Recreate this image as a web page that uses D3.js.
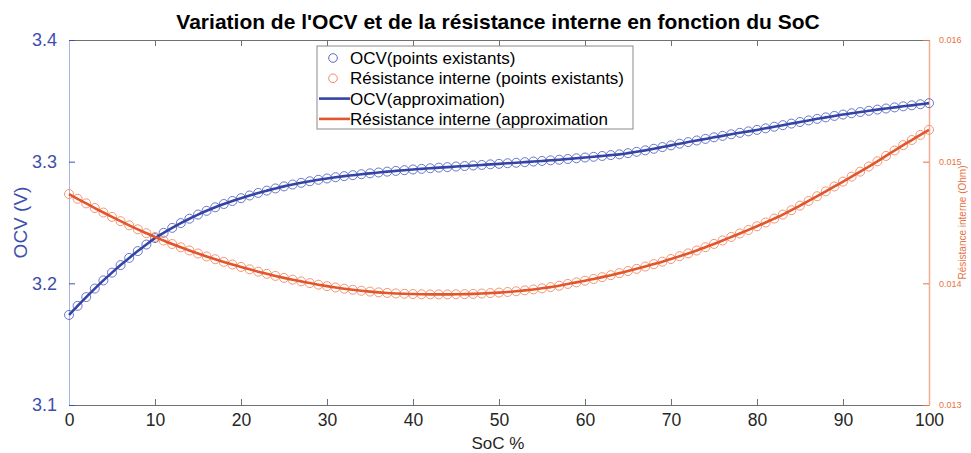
<!DOCTYPE html>
<html>
<head>
<meta charset="utf-8">
<script src="https://cdn.jsdelivr.net/npm/d3@7"></script>
<style>
  body { margin: 0; background: #fff; }
  svg { display: block; font-family: "Liberation Sans", Arial, sans-serif; }
</style>
</head>
<body>
<svg id="chart" width="971" height="453"></svg>
<script>
'use strict';

// SoC 0..100, one measured point per percent
var soc = d3.range(0, 101);

var ocv = [
  3.1740, 3.1815, 3.1887, 3.1957, 3.2024, 3.2088, 3.2150, 3.2209, 3.2265, 3.2319,
  3.2372, 3.2415, 3.2456, 3.2495, 3.2531, 3.2565, 3.2596, 3.2625, 3.2652, 3.2677,
  3.2700, 3.2722, 3.2743, 3.2762, 3.2780, 3.2797, 3.2812, 3.2826, 3.2839, 3.2851,
  3.2862, 3.2872, 3.2881, 3.2889, 3.2897, 3.2904, 3.2911, 3.2918, 3.2924, 3.2930,
  3.2936, 3.2941, 3.2946, 3.2951, 3.2955, 3.2960, 3.2964, 3.2969, 3.2973, 3.2978,
  3.2982, 3.2987, 3.2991, 3.2996, 3.3001, 3.3006, 3.3011, 3.3016, 3.3022, 3.3028,
  3.3034, 3.3040, 3.3047, 3.3054, 3.3060, 3.3070, 3.3081, 3.3093, 3.3106, 3.3120,
  3.3134, 3.3148, 3.3161, 3.3174, 3.3187, 3.3200, 3.3212, 3.3225, 3.3237, 3.3249,
  3.3261, 3.3274, 3.3287, 3.3300, 3.3313, 3.3326, 3.3339, 3.3352, 3.3364, 3.3376,
  3.3387, 3.3398, 3.3408, 3.3418, 3.3428, 3.3437, 3.3446, 3.3455, 3.3463, 3.3472,
  3.3481
];

var resistance = [
  0.014734, 0.014695, 0.014657, 0.014619, 0.014582, 0.014546, 0.014511, 0.014477, 0.014444, 0.014412,
  0.014381, 0.014352, 0.014323, 0.014296, 0.014270, 0.014245, 0.014221, 0.014198, 0.014176, 0.014155,
  0.014135, 0.014115, 0.014096, 0.014078, 0.014061, 0.014045, 0.014030, 0.014016, 0.014002, 0.013989,
  0.013977, 0.013966, 0.013956, 0.013947, 0.013939, 0.013932, 0.013926, 0.013921, 0.013917, 0.013914,
  0.013912, 0.013910, 0.013909, 0.013909, 0.013909, 0.013910, 0.013911, 0.013913, 0.013916, 0.013920,
  0.013924, 0.013929, 0.013935, 0.013942, 0.013950, 0.013959, 0.013969, 0.013980, 0.013995, 0.014008,
  0.014022, 0.014036, 0.014051, 0.014067, 0.014084, 0.014101, 0.014119, 0.014138, 0.014158, 0.014178,
  0.014200, 0.014223, 0.014246, 0.014270, 0.014297, 0.014324, 0.014352, 0.014381, 0.014410, 0.014439,
  0.014469, 0.014500, 0.014532, 0.014565, 0.014601, 0.014639, 0.014677, 0.014716, 0.014756, 0.014796,
  0.014836, 0.014877, 0.014918, 0.014960, 0.015003, 0.015047, 0.015092, 0.015136, 0.015178, 0.015220,
  0.015262
];

var xTicks = [0, 10, 20, 30, 40, 50, 60, 70, 80, 90, 100];
var ocvTicks = [3.1, 3.2, 3.3, 3.4];
var resTicks = [0.013, 0.014, 0.015, 0.016];

var legendLabels = [
  "OCV(points existants)",
  "Résistance interne (points existants)",
  "OCV(approximation)",
  "Résistance interne (approximation"
];

var blue = "#3444a6", blueLight = "#5a68c4", blueText = "#3d4fae", blueAxis = "#a9b6e2";
var orange = "#e2562b", orangeLight = "#ef8a68", orangeText = "#e8733f", orangeAxis = "#f2ad92";

var margin = {left: 69, right: 42, top: 40, bottom: 48};
var W = 971, H = 453;

var svg = d3.select("#chart");

var x = d3.scaleLinear().domain([0, 100]).range([margin.left, W - margin.right]);
var yL = d3.scaleLinear().domain([3.1, 3.4]).range([H - margin.bottom, margin.top]);
var yR = d3.scaleLinear().domain([0.013, 0.016]).range([H - margin.bottom, margin.top]);

var ocvData = soc.map(function(s, i){ return {x: s, y: ocv[i]}; });
var resData = soc.map(function(s, i){ return {x: s, y: resistance[i]}; });

// bottom axis
var xAxis = svg.append("g")
  .attr("transform", "translate(0," + yL.range()[0] + ")")
  .call(d3.axisBottom(x).tickValues(xTicks).tickSizeInner(-6).tickSizeOuter(0).tickPadding(9));
xAxis.select(".domain").attr("stroke", "#707070");
xAxis.selectAll(".tick line").attr("stroke", "#707070");
xAxis.selectAll(".tick text").attr("fill", "#262626").attr("font-size", 17.5);

// top border with ticks
var xTop = svg.append("g")
  .attr("transform", "translate(0," + margin.top + ")")
  .call(d3.axisTop(x).tickValues(xTicks).tickSizeInner(-6).tickSizeOuter(0).tickFormat(""));
xTop.select(".domain").attr("stroke", "#707070");
xTop.selectAll(".tick line").attr("stroke", "#707070");

// left axis
var left = svg.append("g")
  .attr("transform", "translate(" + margin.left + ",0)")
  .call(d3.axisLeft(yL).tickValues(ocvTicks).tickSizeInner(-6).tickSizeOuter(0).tickPadding(12).tickFormat(d3.format(".1f")));
left.select(".domain").attr("stroke", blueAxis);
left.selectAll(".tick line").attr("stroke", blueText);
left.selectAll(".tick text").attr("fill", blueText).attr("font-size", 18);

// right axis
var right = svg.append("g")
  .attr("transform", "translate(" + (W - margin.right) + ",0)")
  .call(d3.axisRight(yR).tickValues(resTicks).tickSizeInner(-6).tickSizeOuter(0).tickPadding(10).tickFormat(d3.format(".3f")));
right.select(".domain").attr("stroke", orangeAxis).attr("stroke-width", 1.5);
right.selectAll(".tick line").attr("stroke", orangeText);
right.selectAll(".tick text").attr("fill", orangeText).attr("font-size", 9);

// markers
svg.append("g").selectAll("circle.ocv")
  .data(ocvData).enter().append("circle")
  .attr("class", "ocv")
  .attr("cx", function(d){ return x(d.x); })
  .attr("cy", function(d){ return yL(d.y); })
  .attr("r", 4.5)
  .attr("fill", "none")
  .attr("stroke", blueLight)
  .attr("stroke-width", 0.9);

svg.append("g").selectAll("circle.res")
  .data(resData).enter().append("circle")
  .attr("class", "res")
  .attr("cx", function(d){ return x(d.x); })
  .attr("cy", function(d){ return yR(d.y); })
  .attr("r", 4.5)
  .attr("fill", "none")
  .attr("stroke", orangeLight)
  .attr("stroke-width", 0.9);

// approximation lines
var lineL = d3.line().x(function(d){ return x(d.x); }).y(function(d){ return yL(d.y); }).curve(d3.curveMonotoneX);
var lineR = d3.line().x(function(d){ return x(d.x); }).y(function(d){ return yR(d.y); }).curve(d3.curveMonotoneX);

svg.append("path").datum(ocvData)
  .attr("d", lineL).attr("fill", "none").attr("stroke", blue).attr("stroke-width", 2.6);
svg.append("path").datum(resData)
  .attr("d", lineR).attr("fill", "none").attr("stroke", orange).attr("stroke-width", 2.6);

// title and axis labels
svg.append("text")
  .attr("x", 498).attr("y", 29)
  .attr("text-anchor", "middle")
  .attr("font-size", 21).attr("font-weight", "bold").attr("fill", "#000")
  .text("Variation de l'OCV et de la résistance interne en fonction du SoC");

svg.append("text")
  .attr("x", 498).attr("y", 449)
  .attr("text-anchor", "middle")
  .attr("font-size", 17).attr("fill", "#262626")
  .text("SoC %");

svg.append("text")
  .attr("transform", "translate(27," + (yL(3.25)) + ") rotate(-90)")
  .attr("text-anchor", "middle")
  .attr("font-size", 19).attr("fill", blueText)
  .text("OCV (V)");

svg.append("text")
  .attr("transform", "translate(966," + (yL(3.25)) + ") rotate(-90)")
  .attr("text-anchor", "middle")
  .attr("font-size", 10).attr("fill", orangeText)
  .text("Résistance interne (Ohm)");

// legend
var lg = svg.append("g").attr("transform", "translate(317,46)");
lg.append("rect")
  .attr("width", 316).attr("height", 83)
  .attr("fill", "#fff").attr("stroke", "#8a8a8a").attr("stroke-width", 1);

var legendItems = [
  {type: "marker", color: blueLight},
  {type: "marker", color: orangeLight},
  {type: "line", color: blue},
  {type: "line", color: orange}
];

legendItems.forEach(function(item, i){
  var cy = 12 + i * 20.3;
  if (item.type === "marker") {
    lg.append("circle").attr("cx", 16).attr("cy", cy).attr("r", 4.3)
      .attr("fill", "none").attr("stroke", item.color).attr("stroke-width", 1);
  } else {
    lg.append("line").attr("x1", 2).attr("x2", 33).attr("y1", cy).attr("y2", cy)
      .attr("stroke", item.color).attr("stroke-width", 2.6);
  }
  lg.append("text").attr("x", 33).attr("y", cy + 6)
    .attr("font-size", 17).attr("fill", "#000")
    .text(legendLabels[i]);
});
</script>
</body>
</html>
